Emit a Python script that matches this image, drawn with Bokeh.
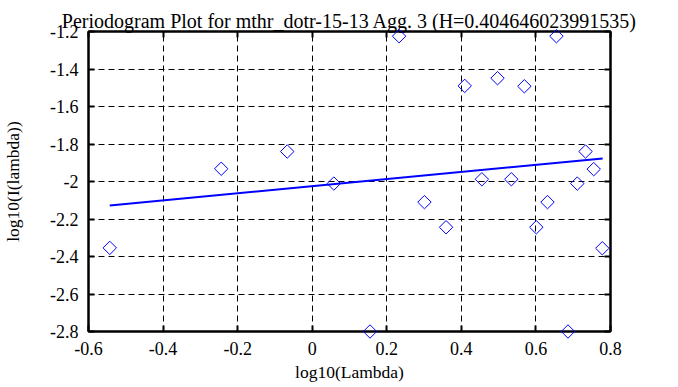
import numpy as np
from bokeh.plotting import figure
from bokeh.models import Range1d, FixedTicker, LinearAxis
from bokeh.embed import file_html
from bokeh.resources import INLINE

# ---- data ----
log_lambda = [-0.543, -0.244, -0.067, 0.058, 0.155, 0.233, 0.301, 0.359, 0.409, 0.455,
              0.497, 0.534, 0.569, 0.601, 0.631, 0.655, 0.686, 0.711, 0.733, 0.755, 0.778]
log_I = [-2.354, -1.932, -1.840, -2.011, -2.800, -1.225, -2.110, -2.244, -1.490, -1.988,
         -1.449, -1.988, -1.492, -2.244, -2.110, -1.225, -2.800, -2.011, -1.840, -1.934, -2.356]
fit_x = [-0.543, 0.779]
fit_y = [-2.128, -1.877]

x_ticks = [-0.6, -0.4, -0.2, 0.0, 0.2, 0.4, 0.6, 0.8]
x_tick_labels = ["-0.6", "-0.4", "-0.2", "0", "0.2", "0.4", "0.6", "0.8"]
y_ticks = [-2.8, -2.6, -2.4, -2.2, -2.0, -1.8, -1.6, -1.4, -1.2]
y_tick_labels = ["-2.8", "-2.6", "-2.4", "-2.2", "-2", "-1.8", "-1.6", "-1.4", "-1.2"]

title_text = "Periodogram Plot for mthr_dotr-15-13 Agg. 3 (H=0.404646023991535)"
x_label = "log10(Lambda)"
y_label = "log10(I(lambda))"

FONT = "Liberation Serif"

p = figure(width=662, height=386, output_backend="svg", toolbar_location=None,
           x_range=Range1d(-0.6, 0.8), y_range=Range1d(-2.8, -1.2),
           min_border_left=82, min_border_right=52, min_border_top=31, min_border_bottom=55)
p.background_fill_color = "white"
p.border_fill_color = "white"
p.outline_line_color = "black"
p.outline_line_width = 2

p.title.text = title_text
p.title.text_font = FONT
p.title.text_font_size = "20px"
p.title.text_font_style = "normal"
p.title.text_color = "black"
p.title.align = "center"
p.title.standoff = 0


def style_axis(ax, ticks, labels, show_labels, hidden_size="0px"):
    ax.ticker = FixedTicker(ticks=ticks)
    ax.major_tick_in = 6
    ax.major_tick_out = 0
    ax.minor_tick_in = 0
    ax.minor_tick_out = 0
    ax.major_tick_line_color = "black"
    ax.major_tick_line_width = 2
    ax.axis_line_color = "black"
    ax.axis_line_width = 2
    ax.major_label_text_font = FONT
    if show_labels:
        ax.major_label_overrides = {t: l for t, l in zip(ticks, labels)}
        ax.major_label_text_font_size = "18px"
        ax.major_label_text_color = "black"
    else:
        # tick marks only: labels are not drawn
        ax.major_label_text_color = None
        ax.major_label_text_font_size = hidden_size
        ax.major_label_standoff = 0


xa = p.xaxis[0]
ya = p.yaxis[0]
style_axis(xa, x_ticks, x_tick_labels, True)
style_axis(ya, y_ticks, y_tick_labels, True)
xa.major_label_standoff = 10
ya.major_label_standoff = 10
xa.axis_label = x_label
ya.axis_label = y_label
for ax in (xa, ya):
    ax.axis_label_text_font = FONT
    ax.axis_label_text_font_size = "17.5px"
    ax.axis_label_text_font_style = "normal"
    ax.axis_label_text_color = "black"
xa.axis_label_standoff = 4
ya.axis_label_standoff = 24

ra = LinearAxis()
style_axis(ra, y_ticks, y_tick_labels, False)
p.add_layout(ra, "right")
ta = LinearAxis()
style_axis(ta, x_ticks, x_tick_labels, False, hidden_size="6px")
p.add_layout(ta, "above")

for g, t in ((p.xgrid[0], x_ticks), (p.ygrid[0], y_ticks)):
    g.ticker = FixedTicker(ticks=t)
    g.grid_line_color = "black"
    g.grid_line_width = 1
    g.grid_line_dash = "6 4"

p.line(fit_x, fit_y, line_color="blue", line_width=2)
r = p.scatter(log_lambda, log_I, marker="square", size=9.5, angle=np.pi / 4,
              fill_color=None, line_color="blue", line_width=1)
r.level = "overlay"

open("out.html", "w").write(file_html(p, INLINE))
